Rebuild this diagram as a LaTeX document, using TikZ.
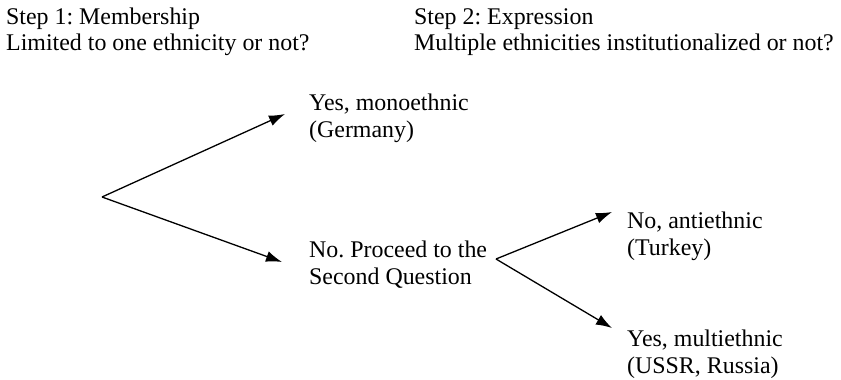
\documentclass[tikz,border=0pt]{standalone}
\usepackage{fontspec}
\setmainfont{Liberation Serif}
\usetikzlibrary{arrows.meta}
\frenchspacing
\begin{document}
\begin{tikzpicture}[x=1pt,y=-1pt,
  lbl/.style={anchor=base west,inner sep=0pt,font=\fontsize{23.9}{27}\selectfont},
  arr/.style={line width=1.3pt,-{Latex[length=16pt,width=11pt]}}]
\useasboundingbox (0,0) rectangle (841,380);
% headers
\node[lbl] (h1a) at (6,24) {Step 1: Membership};
\node[lbl] (h1b) at (6,50) {Limited to one ethnicity or not?};
\node[lbl] (h2a) at (414,24) {Step 2: Expression};
\node[lbl] (h2b) at (414,50) {Multiple ethnicities institutionalized or not?};
% first level labels
\node[lbl] (ya) at (309,110) {Yes, monoethnic};
\node[lbl] (yb) at (309,137) {(Germany)};
\node[lbl] (na) at (309,257) {No. Proceed to the};
\node[lbl] (nb) at (309,284) {Second Question};
% second level labels
\node[lbl] (aa) at (627,228) {No, antiethnic};
\node[lbl] (ab) at (627,255) {(Turkey)};
\node[lbl] (ma) at (627,346) {Yes, multiethnic};
\node[lbl] (mb) at (627,373) {(USSR, Russia)};
% connector points
\coordinate (o1) at (102,197);
\coordinate (t1) at (285,114);
\coordinate (t2) at (282,262);
\coordinate (o2) at (496,259);
\coordinate (t3) at (612,212);
\coordinate (t4) at (612,328);
\draw[arr] (o1) -- (t1);
\draw[arr] (o1) -- (t2);
\draw[arr] (o2) -- (t3);
\draw[arr] (o2) -- (t4);
\end{tikzpicture}
\end{document}
